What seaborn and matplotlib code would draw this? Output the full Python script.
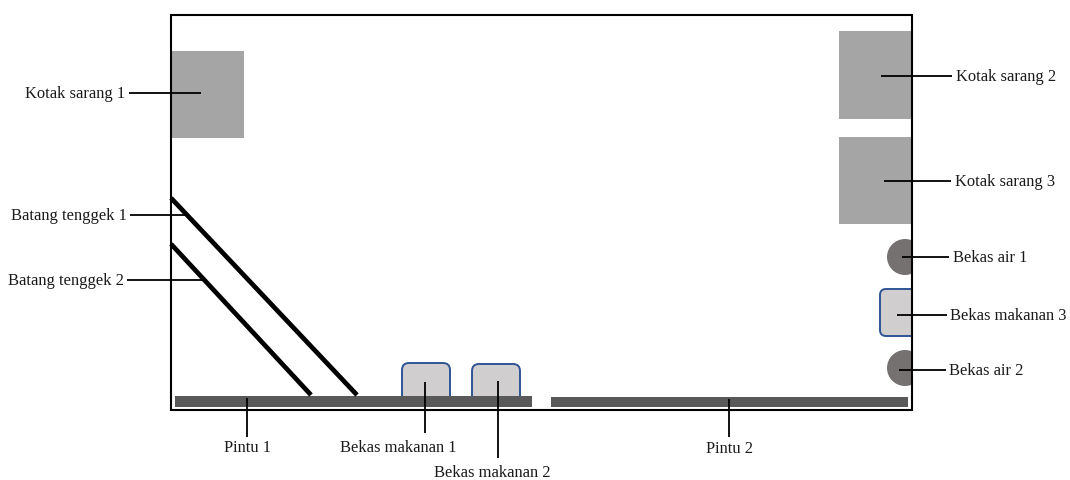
import matplotlib
matplotlib.use("Agg")
import matplotlib.pyplot as plt
from matplotlib.patches import Rectangle, FancyBboxPatch, Circle
import seaborn as sns

sns.set_theme(style="white")
plt.rcParams['font.family'] = ['Liberation Serif', 'DejaVu Serif']

# Room outline (x0, y0, x1, y1)
room = (171, 15, 912, 410)
# Grey nest boxes
nest_boxes = [(171, 51, 244, 138), (839, 31, 911, 119), (839, 137, 911, 224)]
# Doors
doors = [(175, 396, 532, 407), (551, 397, 908, 407)]
# Perches
perches = [((171, 198), (357, 395)), ((171, 244), (311, 395))]
# Food containers
feeders = [(402, 363, 450, 396), (472, 364, 520, 396), (880, 289, 912, 336)]
# Water containers (cx, cy, r)
waters = [(905, 257, 18), (905, 368, 18)]
# Leader lines ((x0, y0), (x1, y1))
leaders = [((129, 93), (201, 93)), ((881, 76), (952, 76)), ((884, 181), (951, 181)),
           ((130, 215), (186, 215)), ((127, 280), (202, 280)),
           ((902, 257), (949, 257)), ((897, 315), (947, 315)), ((899, 370), (946, 370)),
           ((247, 398), (247, 437)), ((425, 382), (425, 433)), ((498, 381), (498, 458)),
           ((729, 399), (729, 437))]
# Labels (text, x, y, ha)
labels = [("Kotak sarang 1", 125, 94, "right"), ("Kotak sarang 2", 956, 77, "left"),
          ("Kotak sarang 3", 955, 182, "left"), ("Batang tenggek 1", 127, 216, "right"),
          ("Batang tenggek 2", 124, 281, "right"), ("Bekas air 1", 953, 258, "left"),
          ("Bekas makanan 3", 950, 316, "left"), ("Bekas air 2", 949, 371, "left"),
          ("Pintu 1", 247, 448, "center"), ("Bekas makanan 1", 398, 448, "center"),
          ("Bekas makanan 2", 492, 473, "center"), ("Pintu 2", 729, 449, "center")]

GREY = "#a5a5a5"
DARK = "#595959"
FOOD = "#d0cece"
EDGE = "#2f5597"
WATER = "#767171"
TEXT = "#1a1a1a"

fig = plt.figure(figsize=(10.7, 4.8), dpi=100)
ax = fig.add_axes([0, 0, 1, 1])
ax.set_xlim(0, 1070)
ax.set_ylim(480, 0)
ax.set_aspect("equal")
ax.axis("off")

for x0, y0, x1, y1 in nest_boxes:
    ax.add_patch(Rectangle((x0, y0), x1 - x0, y1 - y0, fc=GREY, ec="none", zorder=1))
for x0, y0, x1, y1 in doors:
    ax.add_patch(Rectangle((x0, y0), x1 - x0, y1 - y0, fc=DARK, ec="none", zorder=1))
for x0, y0, x1, y1 in feeders[:2]:
    ax.add_patch(FancyBboxPatch((x0 + 7, y0 + 7), x1 - x0 - 14, y1 - y0 - 7,
                                boxstyle="round,pad=7,rounding_size=7",
                                fc=FOOD, ec=EDGE, lw=1.4, zorder=2))
    # square off the base so the container sits on the door
    ax.add_patch(Rectangle((x0 - 1, y1), x1 - x0 + 2, 8, fc=DARK, ec="none", zorder=3))
x0, y0, x1, y1 = feeders[2]
ax.add_patch(FancyBboxPatch((x0 + 6, y0 + 6), x1 - x0 - 6, y1 - y0 - 12,
                            boxstyle="round,pad=6,rounding_size=6",
                            fc=FOOD, ec=EDGE, lw=1.4, zorder=2))
for cx, cy, r in waters:
    ax.add_patch(Circle((cx, cy), r, fc=WATER, ec="none", zorder=2))

# White mask outside the room to clip shapes crossing the right wall
ax.add_patch(Rectangle((room[2], room[1]), 30, room[3] - room[1], fc="white", ec="none", zorder=4))
ax.add_patch(Rectangle(room[:2], room[2] - room[0], room[3] - room[1], fc="none", ec="black", lw=1.5, zorder=5))

for a, b in perches:
    ax.plot([a[0], b[0]], [a[1], b[1]], color="black", lw=3.4, solid_capstyle="butt", zorder=6)
for a, b in leaders:
    ax.plot([a[0], b[0]], [a[1], b[1]], color="black", lw=1.3, solid_capstyle="butt", zorder=7)
for t, x, y, ha in labels:
    ax.text(x, y, t, ha=ha, va="center", fontsize=11.9, color=TEXT, zorder=8)

fig.savefig("out.png", dpi=100)
